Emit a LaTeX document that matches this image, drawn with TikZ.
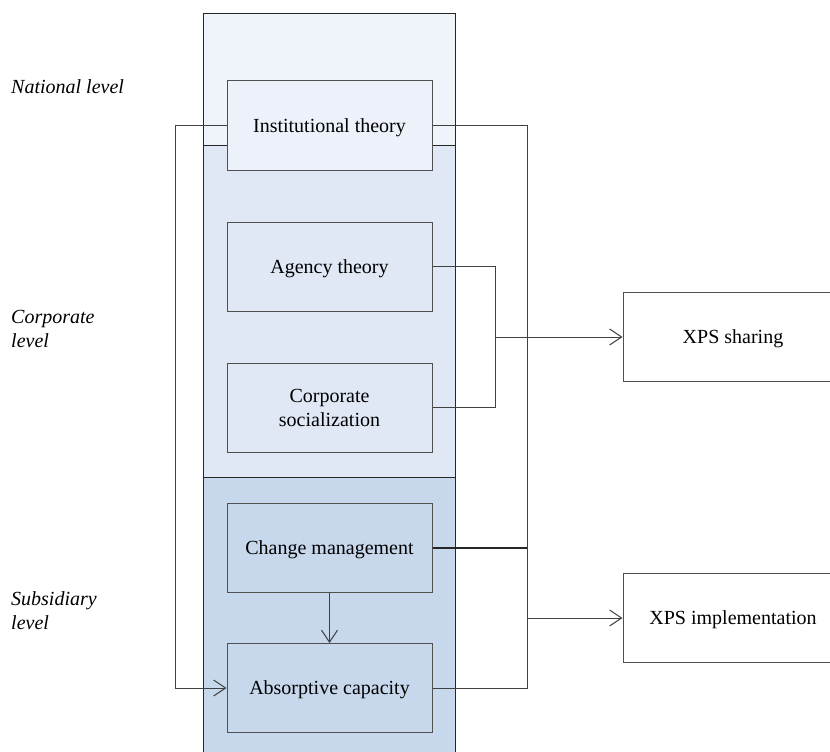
\documentclass[tikz,border=0pt]{standalone}
\usepackage{fontspec}
\setmainfont{Liberation Serif}
\usetikzlibrary{arrows.meta}

\definecolor{natfill}{HTML}{EFF3FA}
\definecolor{corpfill}{HTML}{DFE8F4}
\definecolor{subfill}{HTML}{C7D8EC}
\definecolor{instfill}{HTML}{EDF1F9}
\definecolor{boxline}{HTML}{505050}
\definecolor{edgeline}{HTML}{262626}
\definecolor{wireline}{HTML}{404040}

\tikzset{
  theorybox/.style={draw=boxline, line width=1pt, minimum width=205pt,
    minimum height=89pt, inner sep=0pt, align=center,
    font=\fontsize{20}{24}\selectfont},
  oneline/.style={text height=13.6pt, text depth=0pt},
  outcomebox/.style={theorybox, oneline, minimum width=220pt, fill=white},
  wire/.style={draw=wireline, line width=1pt},
  thickwire/.style={draw=black!85, line width=2pt},
  openarrow/.style={-{Straight Barb[length=12pt,width=16pt,line width=1pt]}},
  levellabel/.style={anchor=base west, inner sep=0pt,
    font=\fontsize{20}{24}\selectfont\itshape}
}

\begin{document}
\begin{tikzpicture}[x=1pt,y=-1pt]
  \clip (0,0) rectangle (830,752);
  \useasboundingbox (0,0) rectangle (830,752);

  % level bands of the central column
  \fill[natfill]  (203,14)  rectangle (455,145);
  \fill[corpfill] (203,145) rectangle (455,477);
  \fill[subfill]  (203,477) rectangle (455,760);
  \draw[edgeline, line width=1pt] (203,760) -- (203,14) -- (455,14) -- (455,760);
  \draw[edgeline, line width=1pt] (203,145) -- (455,145);
  \draw[edgeline, line width=1pt] (203,477) -- (455,477);

  % level labels
  \node[levellabel] (natlab) at (11,93) {National level};
  \node[levellabel] (corplab) at (11,323) {\parbox[t]{150pt}{\raggedright Corporate\\level}};
  \node[levellabel] (sublab) at (11,605) {\parbox[t]{150pt}{\raggedright Subsidiary\\level}};

  % theory boxes
  \node[theorybox, oneline, fill=instfill] (inst) at (329.5,125.5) {Institutional theory};
  \node[theorybox, oneline] (agency) at (329.5,266.5) {Agency theory};
  \node[theorybox] (social) at (329.5,407.5) {Corporate\\socialization};
  \node[theorybox, oneline] (change) at (329.5,548) {Change management};
  \node[theorybox, oneline] (absorb) at (329.5,688) {Absorptive capacity};

  % outcome boxes
  \node[outcomebox] (sharing) at (733,337) {XPS sharing};
  \node[outcomebox] (implement) at (733,618) {XPS implementation};

  % junction points
  \coordinate (leftrail) at (175,0);
  \coordinate (rightrail) at (527,0);
  \coordinate (midrail) at (495,0);

  % institutional theory feeds absorptive capacity on the left
  \draw[wire, openarrow] (inst.west) -- (inst.west -| leftrail)
       -- (absorb.west -| leftrail) -- (absorb.west);

  % right-hand rail towards XPS implementation
  \draw[wire] (inst.east) -- (inst.east -| rightrail)
       -- (absorb.east -| rightrail) -- (absorb.east);
  \draw[thickwire] (change.east) -- (change.east -| rightrail);
  \draw[wire, openarrow] (implement.west -| rightrail) -- (implement.west);

  % agency theory and socialization towards XPS sharing
  \draw[wire] (agency.east) -- (agency.east -| midrail)
       -- (social.east -| midrail) -- (social.east);
  \draw[wire, openarrow] (sharing.west -| midrail) -- (sharing.west);

  % change management into absorptive capacity
  \draw[wire, openarrow] (change.south) -- (absorb.north);
\end{tikzpicture}
\end{document}
